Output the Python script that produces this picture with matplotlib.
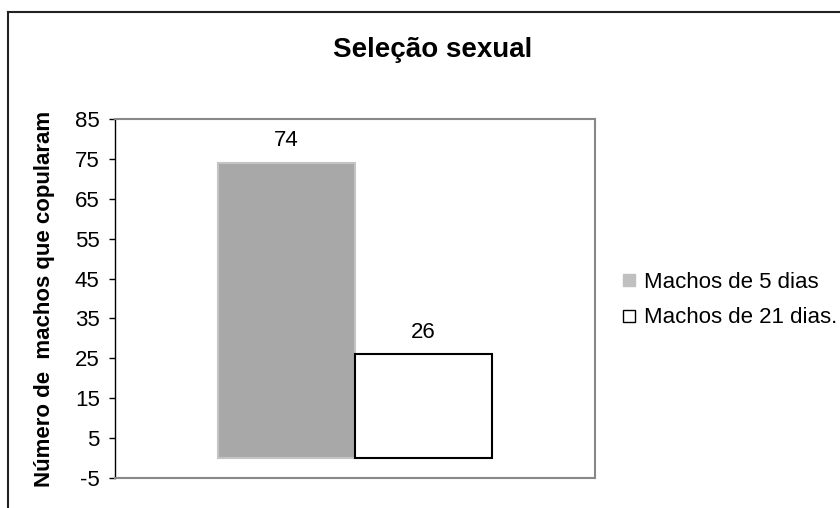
import matplotlib.pyplot as plt
from matplotlib.lines import Line2D

plt.rcParams['font.family'] = ['Liberation Sans', 'DejaVu Sans']
plt.rcParams['axes.unicode_minus'] = False

# data
series = ['Machos de 5 dias', 'Machos de 21 dias.']
values = [74, 26]
yticks = [-5, 5, 15, 25, 35, 45, 55, 65, 75, 85]

colors = ['#a8a8a8', 'white']
edges = ['#c4c4c4', 'black']

fig = plt.figure(figsize=(8.4, 5.08), dpi=100)
ax = fig.add_axes([115 / 840, 30 / 508, 480 / 840, 359 / 508])

width = 0.285
offsets = [-width / 2, width / 2]
for i, (name, val) in enumerate(zip(series, values)):
    ax.bar(offsets[i], val, width=width, color=colors[i], edgecolor=edges[i],
           linewidth=1.5, label=name, zorder=2)
    ax.text(offsets[i], val + 4.2, str(val), ha='center', va='baseline', fontsize=16)

ax.set_xlim(-0.5, 0.5)
ax.set_ylim(-5, 85)
ax.set_yticks(yticks)
ax.set_xticks([])
ax.tick_params(axis='y', labelsize=16, length=4, width=1, pad=7, direction='out')

for s in ['top', 'right', 'bottom']:
    ax.spines[s].set_color('#888888')
    ax.spines[s].set_linewidth(1.5)
ax.spines['left'].set_color('black')
ax.spines['left'].set_linewidth(1)

ax.set_ylabel('Número de  machos que copularam', fontsize=16, fontweight='bold')
ax.yaxis.set_label_coords(-0.125, 0.5)

fig.text(433 / 840, 1 - 57 / 508, 'Seleção sexual', ha='center', va='baseline',
         fontsize=20, fontweight='bold')

handles = [
    Line2D([], [], marker='s', linestyle='none', markersize=9,
           markerfacecolor='#c0c0c0', markeredgecolor='#c0c0c0'),
    Line2D([], [], marker='s', linestyle='none', markersize=9,
           markerfacecolor='white', markeredgecolor='black', markeredgewidth=1),
]
fig.legend(handles, series, loc='center left', bbox_to_anchor=(620 / 840, 1 - 300 / 508),
           frameon=False, fontsize=16, handlelength=0.8, handletextpad=0.3,
           labelspacing=0.67, borderpad=0, borderaxespad=0)

# outer chart border
fig.add_artist(Line2D([8 / 840, 8 / 840], [0, 1 - 12 / 508], color='#222222', lw=1.5))
fig.add_artist(Line2D([8 / 840, 1], [1 - 12 / 508, 1 - 12 / 508], color='#222222', lw=1.5))

fig.savefig('out.png', dpi=100)
